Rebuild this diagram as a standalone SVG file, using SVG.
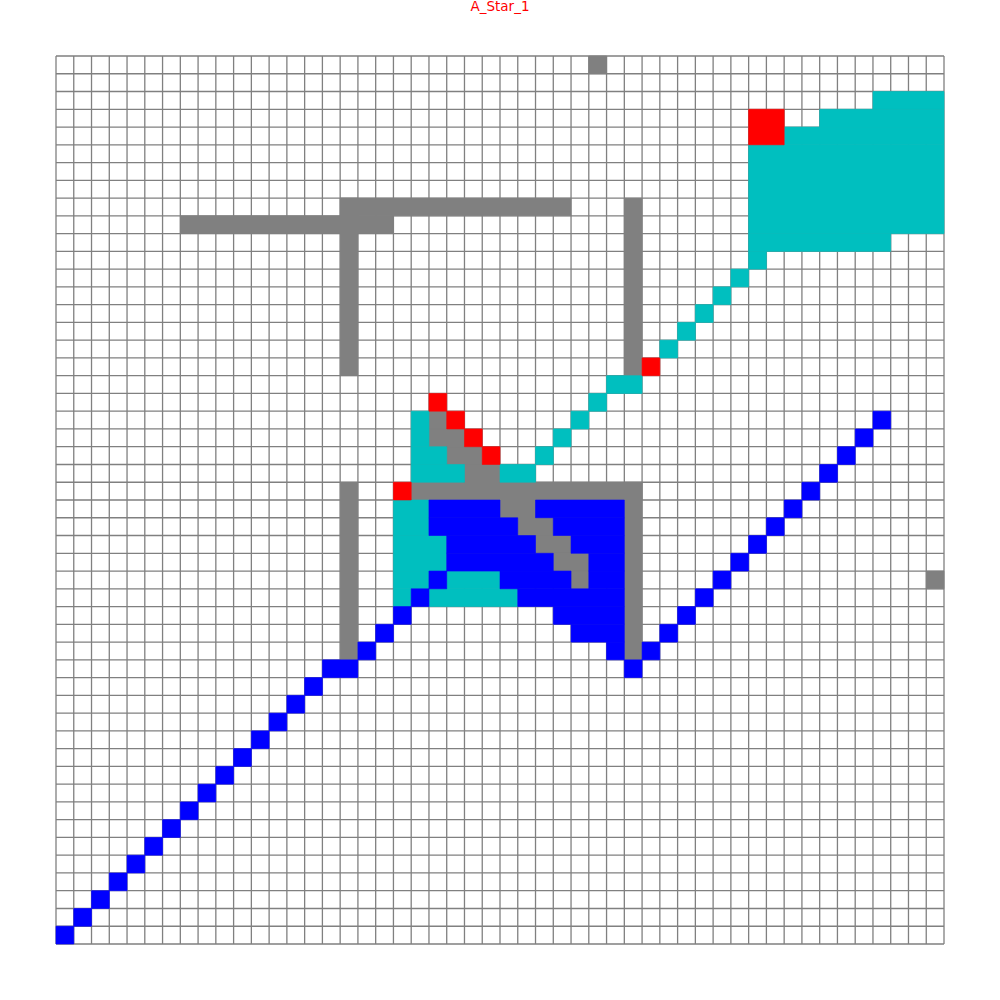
<svg xmlns="http://www.w3.org/2000/svg" width="1000" height="1000" viewBox="0 0 1000 1000">
<style>
.grid{fill:none;stroke:#808080;stroke-width:1.3;vector-effect:non-scaling-stroke}
.obs rect{fill:#808080;stroke:#808080}
.open rect{fill:#00BFBF;stroke:#00BFBF}
.path rect{fill:#0000FF;stroke:#0000FF}
.mark rect{fill:#FF0000;stroke:#FF0000}
.cells rect{stroke-width:0.6;vector-effect:non-scaling-stroke}
.title{font-family:"DejaVu Sans",sans-serif;font-size:13.5px;fill:#FF0000}
</style>
<rect width="1000" height="1000" fill="#ffffff"/>
<text class="title" x="500" y="11" text-anchor="middle">A_Star_1</text>
<g transform="translate(56,56) scale(17.76)">
<path id="grid" class="grid" d="M0 0V50M1 0V50M2 0V50M3 0V50M4 0V50M5 0V50M6 0V50M7 0V50M8 0V50M9 0V50M10 0V50M11 0V50M12 0V50M13 0V50M14 0V50M15 0V50M16 0V50M17 0V50M18 0V50M19 0V50M20 0V50M21 0V50M22 0V50M23 0V50M24 0V50M25 0V50M26 0V50M27 0V50M28 0V50M29 0V50M30 0V50M31 0V50M32 0V50M33 0V50M34 0V50M35 0V50M36 0V50M37 0V50M38 0V50M39 0V50M40 0V50M41 0V50M42 0V50M43 0V50M44 0V50M45 0V50M46 0V50M47 0V50M48 0V50M49 0V50M50 0V50M0 0H50M0 1H50M0 2H50M0 3H50M0 4H50M0 5H50M0 6H50M0 7H50M0 8H50M0 9H50M0 10H50M0 11H50M0 12H50M0 13H50M0 14H50M0 15H50M0 16H50M0 17H50M0 18H50M0 19H50M0 20H50M0 21H50M0 22H50M0 23H50M0 24H50M0 25H50M0 26H50M0 27H50M0 28H50M0 29H50M0 30H50M0 31H50M0 32H50M0 33H50M0 34H50M0 35H50M0 36H50M0 37H50M0 38H50M0 39H50M0 40H50M0 41H50M0 42H50M0 43H50M0 44H50M0 45H50M0 46H50M0 47H50M0 48H50M0 49H50M0 50H50"/>
<g class="cells">
<g id="obstacles" class="obs">
<rect x="30" y="0" width="1" height="1"/>
<rect x="16" y="8" width="13" height="1"/>
<rect x="7" y="9" width="12" height="1"/>
<rect x="16" y="8" width="1" height="10"/>
<rect x="32" y="8" width="1" height="10"/>
<rect x="16" y="24" width="1" height="10"/>
<rect x="20" y="24" width="13" height="1"/>
<rect x="32" y="24" width="1" height="10"/>
<rect x="49" y="29" width="1" height="1"/>
<rect x="21" y="20" width="1" height="1"/>
<rect x="21" y="21" width="2" height="1"/>
<rect x="22" y="22" width="2" height="1"/>
<rect x="23" y="23" width="2" height="1"/>
<rect x="25" y="25" width="2" height="1"/>
<rect x="26" y="26" width="2" height="1"/>
<rect x="27" y="27" width="2" height="1"/>
<rect x="28" y="28" width="2" height="1"/>
<rect x="29" y="29" width="1" height="1"/>
</g>
<g id="explored" class="open">
<rect x="46" y="2" width="4" height="1"/>
<rect x="43" y="3" width="7" height="1"/>
<rect x="41" y="4" width="9" height="1"/>
<rect x="39" y="5" width="11" height="5"/>
<rect x="39" y="10" width="8" height="1"/>
<rect x="39" y="11" width="1" height="1"/>
<rect x="38" y="12" width="1" height="1"/>
<rect x="37" y="13" width="1" height="1"/>
<rect x="36" y="14" width="1" height="1"/>
<rect x="35" y="15" width="1" height="1"/>
<rect x="34" y="16" width="1" height="1"/>
<rect x="31" y="18" width="2" height="1"/>
<rect x="30" y="19" width="1" height="1"/>
<rect x="29" y="20" width="1" height="1"/>
<rect x="28" y="21" width="1" height="1"/>
<rect x="27" y="22" width="1" height="1"/>
<rect x="25" y="23" width="2" height="1"/>
<rect x="20" y="20" width="1" height="2"/>
<rect x="20" y="22" width="2" height="1"/>
<rect x="20" y="23" width="3" height="1"/>
<rect x="19" y="25" width="2" height="2"/>
<rect x="19" y="27" width="3" height="2"/>
<rect x="19" y="29" width="2" height="1"/>
<rect x="22" y="29" width="3" height="1"/>
<rect x="19" y="30" width="1" height="1"/>
<rect x="21" y="30" width="5" height="1"/>
</g>
<g id="path" class="path">
<rect x="0" y="49" width="1" height="1"/>
<rect x="1" y="48" width="1" height="1"/>
<rect x="2" y="47" width="1" height="1"/>
<rect x="3" y="46" width="1" height="1"/>
<rect x="4" y="45" width="1" height="1"/>
<rect x="5" y="44" width="1" height="1"/>
<rect x="6" y="43" width="1" height="1"/>
<rect x="7" y="42" width="1" height="1"/>
<rect x="8" y="41" width="1" height="1"/>
<rect x="9" y="40" width="1" height="1"/>
<rect x="10" y="39" width="1" height="1"/>
<rect x="11" y="38" width="1" height="1"/>
<rect x="12" y="37" width="1" height="1"/>
<rect x="13" y="36" width="1" height="1"/>
<rect x="14" y="35" width="1" height="1"/>
<rect x="15" y="34" width="2" height="1"/>
<rect x="17" y="33" width="1" height="1"/>
<rect x="18" y="32" width="1" height="1"/>
<rect x="19" y="31" width="1" height="1"/>
<rect x="20" y="30" width="1" height="1"/>
<rect x="21" y="29" width="1" height="1"/>
<rect x="21" y="25" width="4" height="1"/>
<rect x="27" y="25" width="5" height="1"/>
<rect x="21" y="26" width="5" height="1"/>
<rect x="28" y="26" width="4" height="1"/>
<rect x="22" y="27" width="5" height="1"/>
<rect x="29" y="27" width="3" height="1"/>
<rect x="22" y="28" width="6" height="1"/>
<rect x="30" y="28" width="2" height="1"/>
<rect x="25" y="29" width="4" height="1"/>
<rect x="30" y="29" width="2" height="1"/>
<rect x="26" y="30" width="6" height="1"/>
<rect x="28" y="31" width="4" height="1"/>
<rect x="29" y="32" width="3" height="1"/>
<rect x="31" y="33" width="1" height="1"/>
<rect x="33" y="33" width="1" height="1"/>
<rect x="32" y="34" width="1" height="1"/>
<rect x="34" y="32" width="1" height="1"/>
<rect x="35" y="31" width="1" height="1"/>
<rect x="36" y="30" width="1" height="1"/>
<rect x="37" y="29" width="1" height="1"/>
<rect x="38" y="28" width="1" height="1"/>
<rect x="39" y="27" width="1" height="1"/>
<rect x="40" y="26" width="1" height="1"/>
<rect x="41" y="25" width="1" height="1"/>
<rect x="42" y="24" width="1" height="1"/>
<rect x="43" y="23" width="1" height="1"/>
<rect x="44" y="22" width="1" height="1"/>
<rect x="45" y="21" width="1" height="1"/>
<rect x="46" y="20" width="1" height="1"/>
</g>
<g id="markers" class="mark">
<rect x="39" y="3" width="2" height="2"/>
<rect x="33" y="17" width="1" height="1"/>
<rect x="21" y="19" width="1" height="1"/>
<rect x="22" y="20" width="1" height="1"/>
<rect x="23" y="21" width="1" height="1"/>
<rect x="24" y="22" width="1" height="1"/>
<rect x="19" y="24" width="1" height="1"/>
</g>
</g>
</g>
</svg>
